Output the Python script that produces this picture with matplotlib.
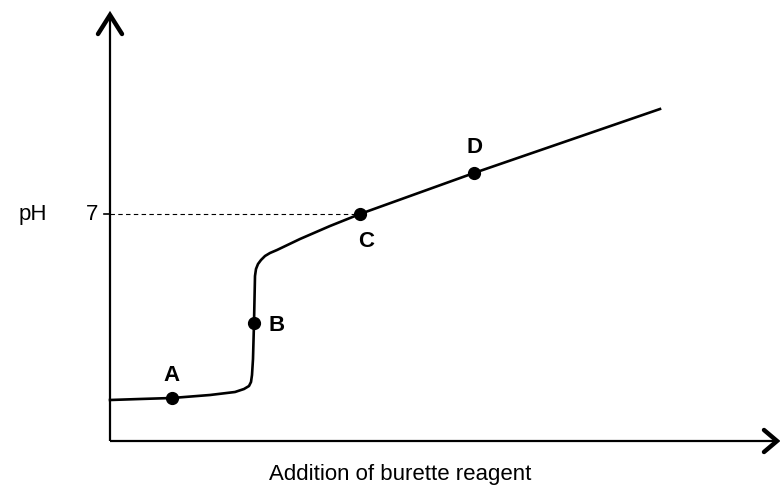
import numpy as np
import matplotlib.pyplot as plt

plt.rcParams['font.family'] = ['Liberation Sans', 'DejaVu Sans']

# titration curve (x = reagent added, y = pH height)
curve_x = [0, 30, 62, 100, 125, 134, 139, 141, 142, 143, 144, 145, 146, 148, 151, 155,
           160, 167, 190, 220, 250, 364, 550]
curve_y = [41, 42, 43, 46, 49, 52, 55, 59, 66, 82, 118, 165, 172, 177, 181, 185,
           188, 191, 202, 215, 227, 268, 332]

# marked points
point_names = ['A', 'B', 'C', 'D']
point_x = [62, 144, 250, 364]
point_y = [43, 118, 227, 268]

ph7_level = 227

fig = plt.figure(figsize=(7.8, 4.89), dpi=100)
ax = fig.add_axes([0, 0, 1, 1])
ax.set_xlim(-110, 670)
ax.set_ylim(-47, 442)
ax.axis('off')

# axes with open arrow heads
ax.plot([0, 0], [0, 425], color='black', lw=1.6, solid_capstyle='butt')
ax.plot([0, 665], [0, 0], color='black', lw=1.6, solid_capstyle='butt')
ax.plot([-12, 0, 12], [407, 426, 407], color='black', lw=3.2,
        solid_capstyle='round', solid_joinstyle='miter')
ax.plot([654, 667, 654], [11, 0, -11], color='black', lw=3.2,
        solid_capstyle='round', solid_joinstyle='miter')

# pH 7 guide
ax.plot([0, point_x[2]], [ph7_level, ph7_level], color='black', lw=0.8, ls=(0, (4, 3)))
ax.plot([-6, 0], [ph7_level, ph7_level], color='black', lw=1.2)
ax.text(-18, ph7_level, '7', fontsize=16, ha='center', va='center')
ax.text(-77, ph7_level, 'pH', fontsize=16, ha='center', va='center')

ax.plot(curve_x, curve_y, color='black', lw=1.9, solid_joinstyle='round')
ax.plot(point_x, point_y, 'o', color='black', ms=8.5)

offsets = [(0, 23), (23, -2), (6, -27), (0, 26)]
for name, px, py, (dx, dy) in zip(point_names, point_x, point_y, offsets):
    ax.text(px + dx, py + dy, name, fontsize=16, fontweight='bold', ha='center', va='center')

ax.text(290, -33, 'Addition of burette reagent', fontsize=16, ha='center', va='center')

fig.savefig('out.png', dpi=100)
